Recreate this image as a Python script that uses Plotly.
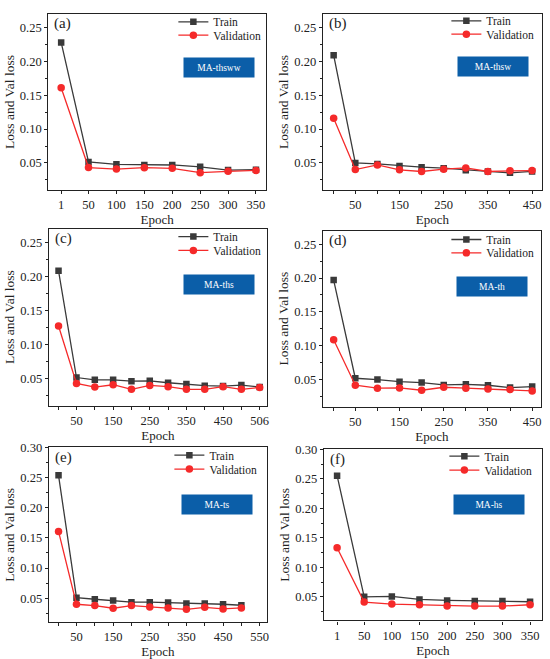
import plotly.graph_objects as go

# (a) MA-thsww
epochs_a = [1, 50, 100, 150, 200, 250, 300, 350]
train_a = [0.228, 0.0515, 0.048, 0.047, 0.047, 0.0443, 0.0395, 0.040]
val_a = [0.161, 0.0432, 0.041, 0.043, 0.042, 0.0356, 0.0376, 0.039]

# (b) MA-thsw
epochs_b = [1, 50, 100, 150, 200, 250, 300, 350, 400, 450]
train_b = [0.209, 0.050, 0.0485, 0.0456, 0.0437, 0.0422, 0.0393, 0.0374, 0.0354, 0.0374]
val_b = [0.116, 0.0403, 0.047, 0.0398, 0.0374, 0.0408, 0.0427, 0.0374, 0.0383, 0.0388]

# (c) MA-ths  (last point drawn at the 550 slot, labelled 506)
epochs_c = [1, 50, 100, 150, 200, 250, 300, 350, 400, 450, 500, 550]
train_c = [0.208, 0.0514, 0.048, 0.048, 0.046, 0.0466, 0.0437, 0.0418, 0.0394, 0.0389, 0.0403, 0.0374]
val_c = [0.127, 0.0428, 0.0374, 0.0408, 0.034, 0.0398, 0.0379, 0.034, 0.034, 0.0379, 0.034, 0.0369]

# (d) MA-th
epochs_d = [1, 50, 100, 150, 200, 250, 300, 350, 400, 450]
train_d = [0.197, 0.052, 0.050, 0.047, 0.0456, 0.0422, 0.043, 0.0417, 0.0382, 0.0397]
val_d = [0.1088, 0.0417, 0.0373, 0.0377, 0.0343, 0.0387, 0.0373, 0.0363, 0.0353, 0.0333]

# (e) MA-ts
epochs_e = [1, 50, 100, 150, 200, 250, 300, 350, 400, 450, 500]
train_e = [0.2535, 0.051, 0.0483, 0.0461, 0.0434, 0.0434, 0.0428, 0.0412, 0.0412, 0.040, 0.0384]
val_e = [0.1606, 0.040, 0.0378, 0.0334, 0.0378, 0.0356, 0.034, 0.0317, 0.035, 0.0323, 0.034]

# (f) MA-hs
epochs_f = [1, 50, 100, 150, 200, 250, 300, 350]
train_f = [0.2552, 0.050, 0.0506, 0.0455, 0.0438, 0.0427, 0.0427, 0.0416]
val_f = [0.133, 0.041, 0.0377, 0.0365, 0.0343, 0.0343, 0.0343, 0.0365]

# x tick positions / labels
ticks_a = [1, 50, 100, 150, 200, 250, 300, 350]
labels_a = ['1', '50', '100', '150', '200', '250', '300', '350']
ticks_b = [0, 50, 100, 150, 200, 250, 300, 350, 400, 450]
labels_b = ['', '50', '', '150', '', '250', '', '350', '', '450']
ticks_c = [0, 50, 100, 150, 200, 250, 300, 350, 400, 450, 500, 550]
labels_c = ['', '50', '', '150', '', '250', '', '350', '', '450', '', '506']
ticks_e = [0, 50, 100, 150, 200, 250, 300, 350, 400, 450, 500, 550]
labels_e = ['', '50', '', '150', '', '250', '', '350', '', '450', '', '550']

W, H = 550, 659
FONT = 'Liberation Serif'
BLACK = '#222222'
TRAIN = '#3a3a3a'
RED = '#f52a2a'
BOX = '#0b5ea8'

panels = [
    # label, box, epochs, train, val, ticks, labels, xrange, yrange,
    # frame px (l, r, t, b), legend text x, legend rows y, box centre (x, y)
    ('(a)', 'MA-thsww', epochs_a, train_a, val_a, ticks_a, labels_a, [-22, 368], [0.01, 0.27],
     (48.5, 267, 7, 185), 214, (15, 28.5), (220, 61)),
    ('(b)', 'MA-thsw', epochs_b, train_b, val_b, ticks_b, labels_b, [-23.5, 472.5], [0.01, 0.27],
     (324, 544, 7, 185), 488, (14, 27.5), (494.5, 60.5)),
    ('(c)', 'MA-ths', epochs_c, train_c, val_c, ticks_c, labels_c, [-25.5, 570], [0.01, 0.27],
     (49, 268, 224, 403), 214, (232, 246), (219.5, 280)),
    ('(d)', 'MA-th', epochs_d, train_d, val_d, ticks_b, labels_b, [-23.5, 470], [0.01, 0.27],
     (324, 543, 226, 404), 488, (235, 248.5), (493.5, 282)),
    ('(e)', 'MA-ts', epochs_e, train_e, val_e, ticks_e, labels_e, [-25.5, 570], [0.01, 0.30],
     (49, 268, 445, 622), 210, (453, 467), (217.5, 502.5)),
    ('(f)', 'MA-hs', epochs_f, train_f, val_f, ticks_a, labels_a, [-23, 371.6], [0.01, 0.30],
     (325, 544, 447, 620), 486, (454, 468), (491, 502.5)),
]

fig = go.Figure()
annotations = []


def legend_id(k):
    return 'legend' if k == 1 else 'legend%d' % k


for i, (lab, box, ep, tr, va, tv, tt, xr, yr, frame, lx, ly, bpos) in enumerate(panels):
    n = '' if i == 0 else str(i + 1)
    l, r, t, b = frame
    leg_t = legend_id(2 * i + 1)
    leg_v = legend_id(2 * i + 2)
    fig.add_trace(go.Scatter(x=ep, y=tr, name='Train', mode='lines+markers',
                             line=dict(color=TRAIN, width=1.3),
                             marker=dict(symbol='square', size=6.5, color=TRAIN),
                             xaxis='x' + n, yaxis='y' + n, legend=leg_t))
    fig.add_trace(go.Scatter(x=ep, y=va, name='Validation', mode='lines+markers',
                             line=dict(color=RED, width=1.3),
                             marker=dict(symbol='circle', size=7.5, color=RED),
                             xaxis='x' + n, yaxis='y' + n, legend=leg_v))

    axis_common = dict(showline=True, linecolor=BLACK, linewidth=1.2, mirror=True,
                       showgrid=False, zeroline=False, ticks='outside', ticklen=3,
                       tickcolor=BLACK, tickwidth=1,
                       tickfont=dict(family=FONT, size=12.5, color=BLACK))
    leg_common = dict(xanchor='left', yanchor='middle', bgcolor='rgba(0,0,0,0)',
                      font=dict(family=FONT, size=11.5, color=BLACK), itemwidth=30)
    fig.update_layout({
        'xaxis' + n: dict(axis_common, domain=[l / W, r / W], range=xr,
                          anchor='y' + n, tickmode='array', tickvals=tv, ticktext=tt,
                          title=dict(text='Epoch', font=dict(family=FONT, size=13, color=BLACK),
                                     standoff=1)),
        'yaxis' + n: dict(axis_common, domain=[1 - b / H, 1 - t / H], range=yr,
                          anchor='x' + n, dtick=0.05, tick0=0, tickformat='.2f',
                          minor=dict(ticks='outside', ticklen=2, dtick=0.025, tick0=0,
                                     tickcolor=BLACK, showgrid=False),
                          title=dict(text='Loss and Val loss', font=dict(family=FONT, size=13.5, color=BLACK),
                                     standoff=2)),
        leg_t: dict(leg_common, x=(lx - 40) / W, y=1 - ly[0] / H),
        leg_v: dict(leg_common, x=(lx - 40) / W, y=1 - ly[1] / H),
    })

    annotations.append(dict(text=lab, xref='paper', yref='paper', x=(l + 4) / W, y=1 - (t + 10) / H,
                            xanchor='left', yanchor='middle', showarrow=False,
                            font=dict(family=FONT, size=15, color=BLACK)))
    annotations.append(dict(text=box, xref='paper', yref='paper', x=bpos[0] / W, y=1 - bpos[1] / H,
                            xanchor='center', yanchor='middle', showarrow=False,
                            bgcolor=BOX, width=68, height=17, borderpad=1,
                            font=dict(family=FONT, size=9.5, color='white')))

fig.update_layout(width=W, height=H, margin=dict(l=0, r=0, t=0, b=0),
                  paper_bgcolor='white', plot_bgcolor='white',
                  annotations=annotations, showlegend=True)

# the page's default body margin would push the fixed-size figure off the window
fig.write_html("out.html", config={'displayModeBar': False},
               post_script="document.body.style.margin='0px';")
